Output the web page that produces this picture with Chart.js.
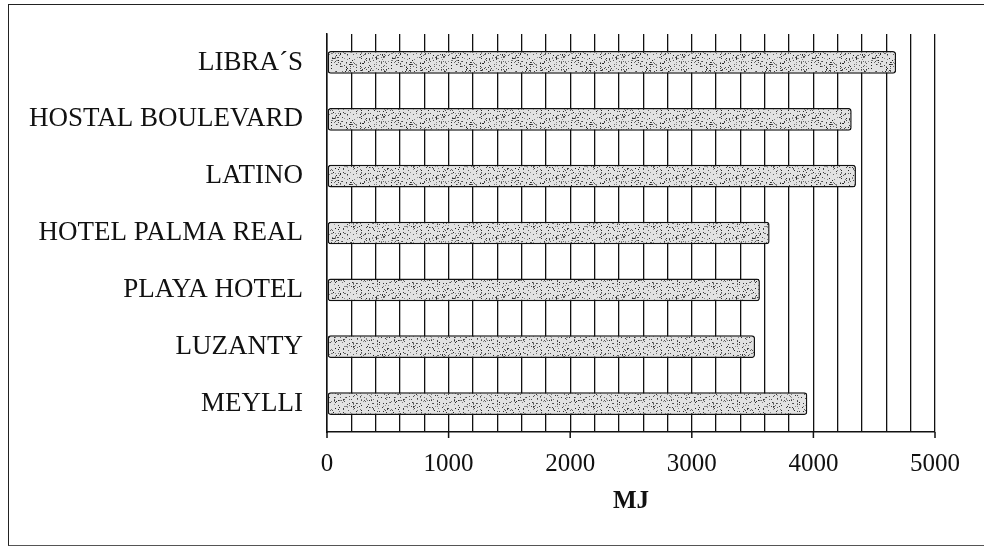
<!DOCTYPE html>
<html>
<head>
<meta charset="utf-8">
<script src="https://cdn.jsdelivr.net/npm/chart.js@4"></script>
<style>
  html, body { margin: 0; padding: 0; background: #fff; overflow: hidden; }
  #wrap { position: relative; width: 984px; height: 547px; overflow: hidden; }
  #frame {
    position: absolute; left: 8px; top: 4px; width: 1000px; height: 540px;
    border-left: 1.5px solid #222; border-top: 1.5px solid #222; border-bottom: 1px solid #555;
  }
  canvas { position: absolute; left: 0; top: 0; }
</style>
</head>
<body>
<div id="wrap">
  <div id="frame"></div>
  <canvas id="barChart" width="984" height="547"></canvas>
</div>
<script>
// datos
const hoteles = ['LIBRA´S', 'HOSTAL BOULEVARD', 'LATINO', 'HOTEL PALMA REAL', 'PLAYA HOTEL', 'LUZANTY', 'MEYLLI'];
const energiaMJ = [4680, 4315, 4350, 3640, 3560, 3520, 3950];
const xTickLabels = ['0', '1000', '2000', '3000', '4000', '5000'];
const xTitulo = 'MJ';

// textura punteada para las barras (semilla fija)
function texturaPunteada() {
    const c = document.createElement('canvas');
    c.width = 60; c.height = 60;
    const g = c.getContext('2d');
    g.fillStyle = '#e2e2e2';
    g.fillRect(0, 0, 60, 60);
    let s = 12345;
    const rnd = () => { s = (s * 1103515245 + 12345) % 2147483648; return s / 2147483648; };
    for (let i = 0; i < 560; i++) {
        const v = Math.floor(30 + rnd() * 120);
        g.fillStyle = `rgb(${v},${v},${v})`;
        g.fillRect(Math.floor(rnd() * 60), Math.floor(rnd() * 60), 1, 1);
    }
    return g.createPattern(c, 'repeat');
}

// marcas grandes cada 1000 bajo el eje
const marcasMayores = {
    id: 'marcasMayores',
    afterDraw(chart) {
        const x = chart.scales.x;
        const ctx = chart.ctx;
        ctx.save();
        ctx.strokeStyle = '#111';
        ctx.lineWidth = 1.5;
        xTickLabels.forEach(t => {
            const px = x.getPixelForValue(Number(t));
            ctx.beginPath();
            ctx.moveTo(px, x.top);
            ctx.lineTo(px, x.top + 6);
            ctx.stroke();
        });
        ctx.restore();
    }
};

const fuente = "'Liberation Serif', 'Times New Roman', serif";

new Chart(document.getElementById('barChart'), {
    type: 'bar',
    data: {
        labels: hoteles,
        datasets: [{
            data: energiaMJ,
            backgroundColor: texturaPunteada(),
            borderColor: '#111',
            borderWidth: 1.5,
            borderRadius: 3,
            borderSkipped: false,
            barPercentage: 0.8,
            categoryPercentage: 0.5
        }]
    },
    options: {
        indexAxis: 'y',
        responsive: false,
        animation: false,
        devicePixelRatio: 1,
        layout: { padding: { left: 0, top: 34, right: 49, bottom: 0 } },
        plugins: { legend: { display: false }, tooltip: { enabled: false } },
        scales: {
            x: {
                min: 0,
                max: 5000,
                afterFit: s => { s.height = 115; },
                ticks: {
                    stepSize: 200,
                    autoSkip: false,
                    maxRotation: 0,
                    padding: 17,
                    color: '#111',
                    font: { family: fuente, size: 25 },
                    callback: v => xTickLabels.includes(String(v)) ? String(v) : ''
                },
                grid: { color: '#111', lineWidth: 1.3, drawTicks: false },
                border: { color: '#111', width: 1.5 },
                title: {
                    display: true,
                    text: xTitulo,
                    color: '#111',
                    font: { family: fuente, size: 25, weight: 'bold' },
                    padding: { top: 0, bottom: 30 }
                }
            },
            y: {
                afterFit: s => { s.width = 327; s.paddingTop = 0; s.paddingBottom = 0; },
                ticks: {
                    padding: 24,
                    color: '#111',
                    font: { family: fuente, size: 27 }
                },
                grid: { display: false, drawTicks: false },
                border: { color: '#111', width: 1.5 }
            }
        }
    },
    plugins: [marcasMayores]
});
</script>
</body>
</html>
